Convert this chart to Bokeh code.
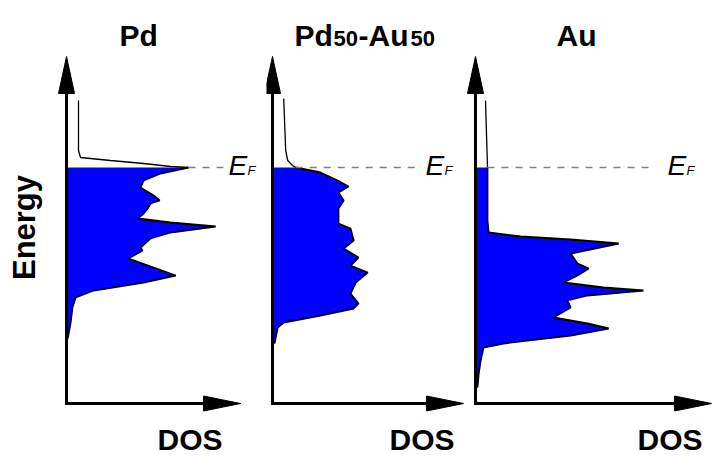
import math
from bokeh.plotting import figure
from bokeh.models import Range1d, Label
from bokeh.layouts import row
from bokeh.embed import file_html
from bokeh.resources import INLINE

# ---------------- data (energy in eV relative to E_F, DOS in arbitrary units) ----------------
panel_names = ["Pd", "Pd50-Au50", "Au"]

pd_empty_dos = [0.30, 0.30, 0.35, 1.10, 1.93, 2.60, 3.05]
pd_empty_E = [2.68, 0.68, 0.40, 0.28, 0.16, 0.04, 0.00]
pd_filled_dos = [3.05, 2.35, 1.93, 1.85, 2.18, 2.33, 2.10, 2.03, 1.93, 1.78, 2.60, 3.73, 2.60,
                 2.10, 1.85, 1.90, 1.55, 2.18, 2.73, 1.93, 0.68, 0.23, 0.15, 0.10, 0.03]
pd_filled_E = [0.00, -0.24, -0.52, -0.80, -1.12, -1.32, -1.44, -1.64, -1.84, -2.04, -2.20, -2.36, -2.60,
               -2.84, -3.20, -3.32, -3.64, -4.00, -4.32, -4.60, -4.92, -5.20, -5.60, -6.24, -6.84]

pdau_empty_dos = [0.28, 0.33, 0.38, 0.50, 0.58]
pdau_empty_E = [2.76, 0.68, 0.28, 0.08, 0.00]
pdau_filled_dos = [0.58, 1.20, 1.63, 1.90, 1.65, 1.78, 1.65, 1.65, 1.95, 2.03, 1.78, 2.15, 1.95,
                   2.38, 2.08, 1.95, 2.15, 2.03, 1.20, 0.28, 0.13, 0.05]
pdau_filled_E = [0.00, -0.20, -0.52, -0.76, -1.00, -1.32, -1.64, -2.24, -2.44, -2.92, -3.24, -3.60, -3.92,
                 -4.20, -4.60, -5.04, -5.44, -5.64, -5.92, -6.20, -6.40, -7.04]

au_empty_dos = [0.25, 0.28, 0.30]
au_empty_E = [2.68, 1.08, 0.00]
au_filled_dos = [0.30, 0.30, 0.33, 1.13, 2.38, 3.58, 2.38, 2.55, 2.83, 2.55, 2.20, 3.20, 4.20,
                 2.80, 2.30, 2.38, 1.95, 2.80, 3.33, 2.38, 0.70, 0.20, 0.13, 0.08, 0.05]
au_filled_E = [0.00, -2.12, -2.60, -2.76, -2.88, -3.04, -3.44, -3.84, -4.04, -4.32, -4.60, -4.80, -4.92,
               -5.12, -5.32, -5.60, -6.00, -6.24, -6.44, -6.72, -7.04, -7.20, -7.72, -8.24, -8.80]

axis_label_x = "DOS"
axis_label_y = "Energy"
fermi_label = ("E", "F")

# ---------------- layout (screen pixels of the page) ----------------
PX_PER_DOS = 40.0
PX_PER_EV = 25.0
EF_Y = 167.0
TOP = 0.0
H = 456
FONT = "Liberation Sans"
BLUE = "#0000FF"
BASE_CORR = 0.37  # label anchor correction, as a fraction of font size

layout = [
    dict(left=0, width=266, axis_x=66, arrow_tip=240, ef_end=227, ef_lab=228,
         title=[("Pd", 119, 30)], dos_lab=157, energy=True),
    dict(left=266, width=200, axis_x=272, arrow_tip=463, ef_end=417, ef_lab=425,
         title=[("Pd", 294, 30), ("50", 333, 22), ("-Au", 358, 30), ("50", 410, 22)],
         dos_lab=389, energy=False),
    dict(left=466, width=246, axis_x=475, arrow_tip=711, ef_end=653, ef_lab=667,
         title=[("Au", 556, 30)], dos_lab=637, energy=False),
]
series = [
    (pd_empty_dos, pd_empty_E, pd_filled_dos, pd_filled_E),
    (pdau_empty_dos, pdau_empty_E, pdau_filled_dos, pdau_filled_E),
    (au_empty_dos, au_empty_E, au_filled_dos, au_filled_E),
]


def make_panel(cfg, data):
    ax = cfg["axis_x"]

    def sx(px):
        return (px - ax) / PX_PER_DOS

    def sy(py):
        return (EF_Y - py) / PX_PER_EV

    def label(text, x_px, base_px, size, style="bold", angle=0.0, align="left"):
        corr = BASE_CORR * size
        if angle:
            x_px -= corr
        else:
            base_px -= corr
        return Label(x=sx(x_px), y=sy(base_px), text=text, text_font=FONT,
                     text_font_size=f"{size}px", text_font_style=style, text_color="black",
                     angle=angle, text_baseline="alphabetic", text_align=align)

    p = figure(width=cfg["width"], height=H,
               x_range=Range1d(sx(cfg["left"]), sx(cfg["left"] + cfg["width"])),
               y_range=Range1d(sy(TOP + H), sy(TOP)),
               output_backend="svg", toolbar_location=None,
               x_axis_location=None, y_axis_location=None,
               min_border=0, outline_line_color=None,
               background_fill_color="white", border_fill_color="white")
    p.grid.visible = False

    e_dos, e_E, f_dos, f_E = data
    # filled (occupied) states
    p.patch([0.0] + f_dos + [0.0], [f_E[0]] + f_E + [f_E[-1]],
            fill_color=BLUE, line_color=None)
    p.line(f_dos, f_E, line_color="black", line_width=1.8)
    # empty states
    p.line(e_dos, e_E, line_color="black", line_width=1.3)
    # Fermi level
    p.line([f_dos[0], sx(cfg["ef_end"])], [0, 0], line_color="#808080",
           line_width=1.6, line_dash="7 7")

    # axes with arrows
    e_min = sy(403)
    e_tip = sy(56)
    head_len_e = 37 / PX_PER_EV
    head_half_d = 8 / PX_PER_DOS
    d_tip = sx(cfg["arrow_tip"])
    head_len_d = 37 / PX_PER_DOS
    head_half_e = 7.5 / PX_PER_EV
    p.line([0, 0], [e_min - 1.5 / PX_PER_EV, e_tip - head_len_e + 0.1], line_color="black", line_width=3)
    p.line([-1.5 / PX_PER_DOS, d_tip - head_len_d + 0.1], [e_min, e_min], line_color="black", line_width=3)
    p.patch([0, head_half_d, -head_half_d], [e_tip, e_tip - head_len_e, e_tip - head_len_e],
            fill_color="black", line_color="black", line_width=1)
    p.patch([d_tip, d_tip - head_len_d, d_tip - head_len_d], [e_min, e_min + head_half_e, e_min - head_half_e],
            fill_color="black", line_color="black", line_width=1)

    # title
    for txt, x, size in cfg["title"]:
        p.add_layout(label(txt, x, 46, size))
    # DOS label
    p.add_layout(label(axis_label_x, cfg["dos_lab"], 450, 30))
    # E_F label
    p.add_layout(label(fermi_label[0], cfg["ef_lab"], 175, 28, style="italic"))
    p.add_layout(label(fermi_label[1], cfg["ef_lab"] + 19, 175, 13, style="italic"))
    if cfg["energy"]:
        p.add_layout(label(axis_label_y, 35, 227, 31, angle=math.pi / 2, align="center"))
    return p


figs = [make_panel(c, d) for c, d in zip(layout, series)]
page = row(*figs, spacing=0)
open("out.html", "w").write(file_html(page, INLINE))
